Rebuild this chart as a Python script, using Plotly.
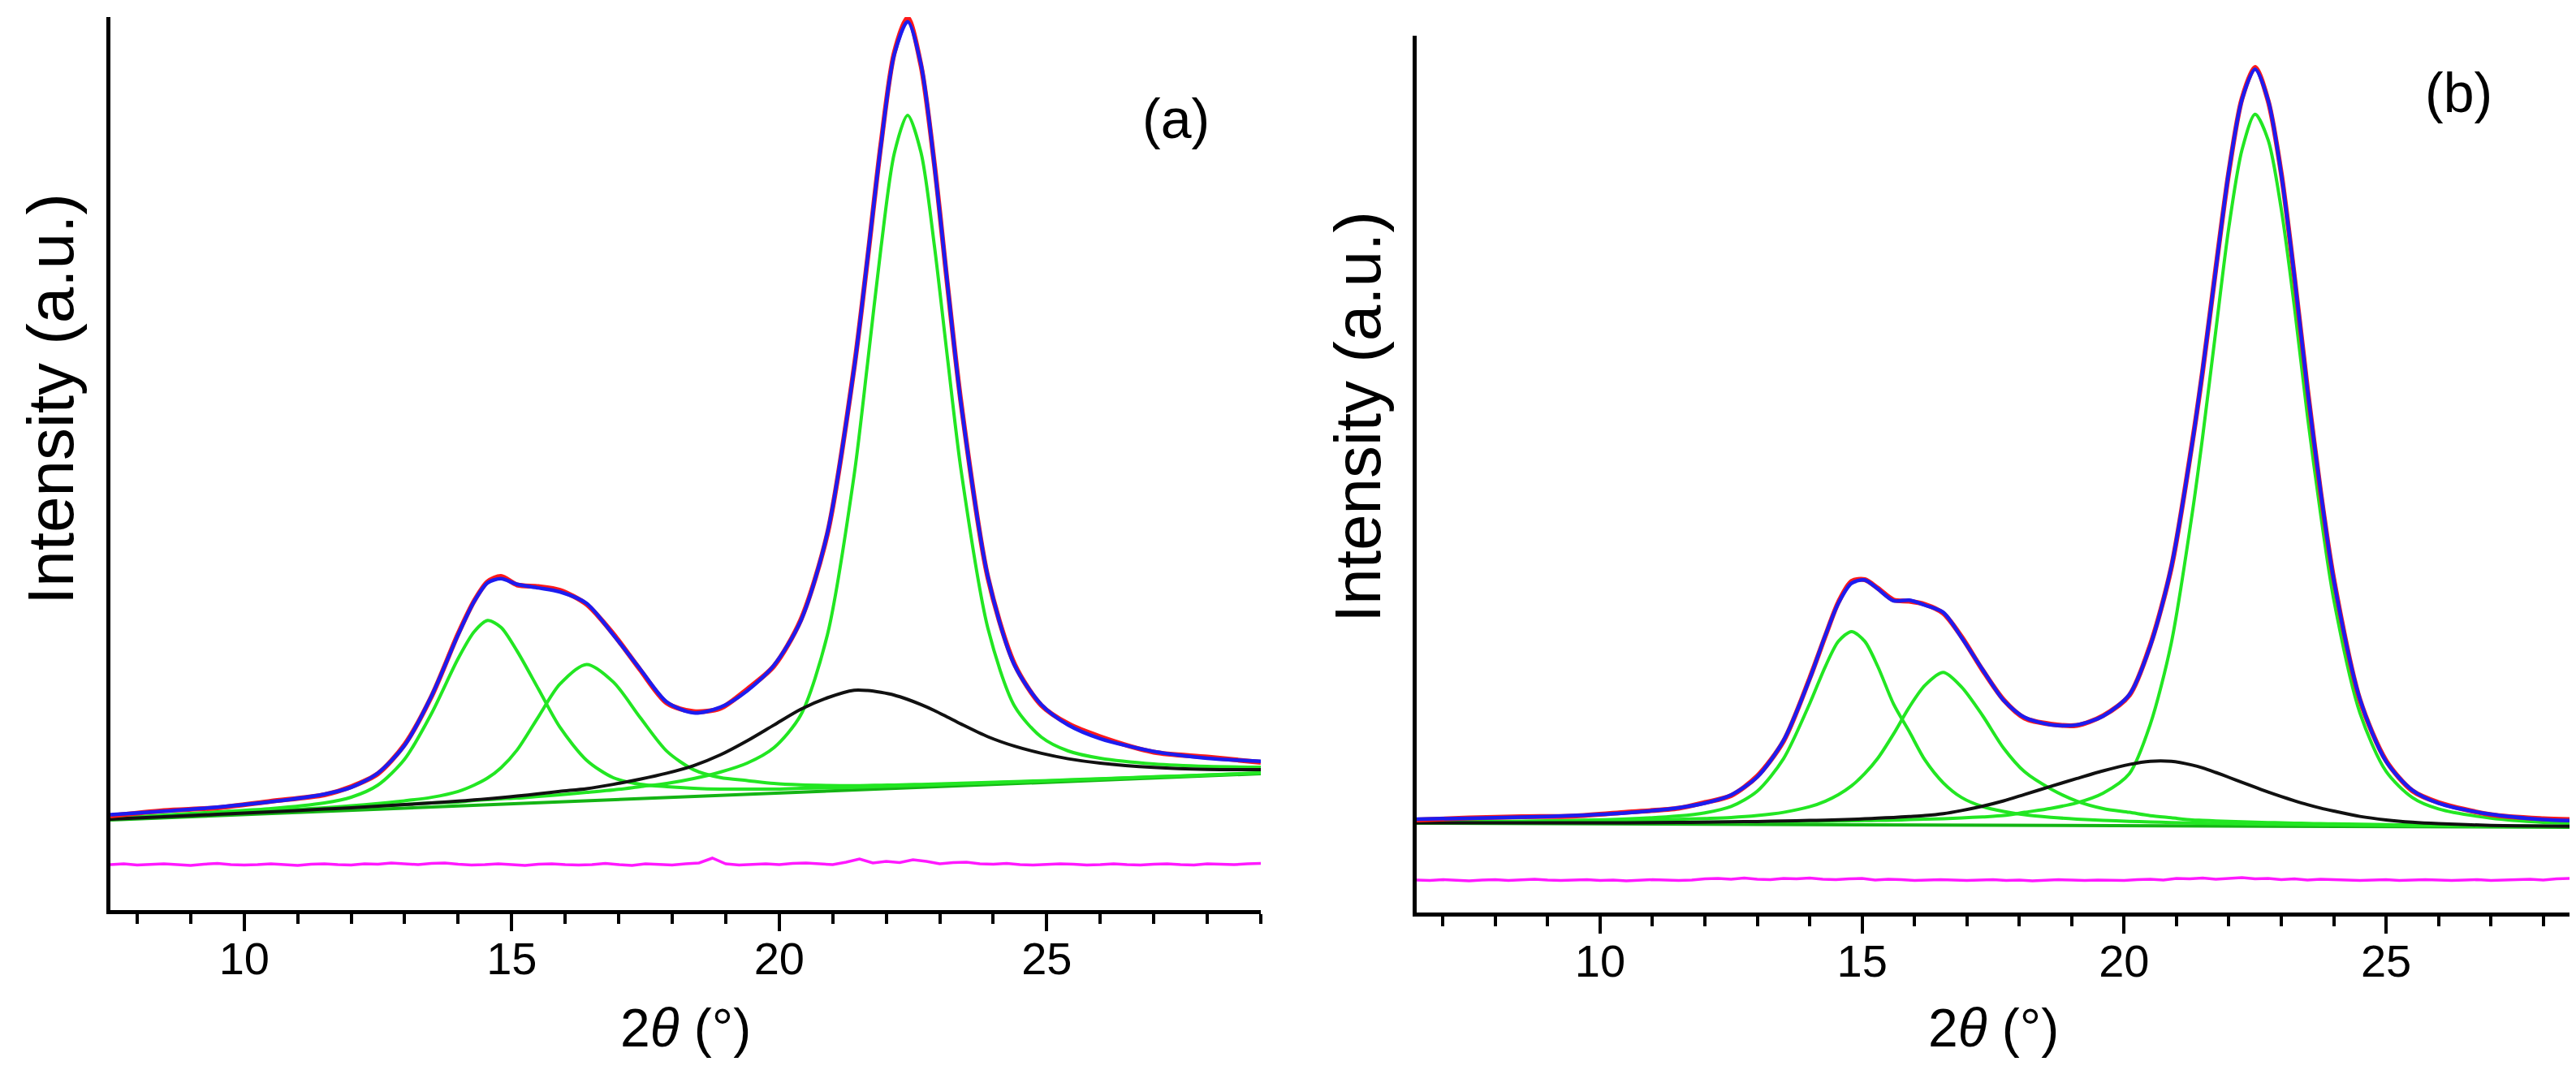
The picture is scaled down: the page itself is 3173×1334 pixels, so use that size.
import numpy as np
import plotly.graph_objects as go

# ---------------- panel (a) ----------------
XA = [7.5, 8.5, 9.5, 10.5, 11.5, 12, 12.5, 13, 13.5, 14, 14.3, 14.55, 14.8, 15.1, 15.5, 15.9,
      16.4, 16.9, 17.4, 17.9, 18.4, 18.9, 19.4, 19.9, 20.4, 20.9, 21.4, 21.65, 21.9, 22.15,
      22.4, 22.65, 22.9, 23.15, 23.4, 23.9, 24.4, 24.9, 25.4, 26, 27, 28, 29]

FIT_A = [117.4, 121.8, 126.8, 133.4, 142.8, 151.1, 168.8, 203.1, 263.6, 339.4, 380.3, 403.1,
         408.2, 401.3, 396.9, 392.0, 377.7, 338.9, 296.9, 256.2, 242.9, 249.8, 270.0, 301.4,
         355.9, 464.5, 667.8, 802.8, 941.9, 1054.0, 1094.3, 1041.4, 917.8, 767.2, 622.5,
         410.4, 301.2, 253.0, 228.0, 211.2, 195.4, 187.1, 183.3]

DATA_A = [116.0, 122.5, 126.0, 134.0, 142.0, 152.0, 168.0, 204.0, 263.0, 340.5, 381.0, 404.5,
          411.0, 400.5, 398.5, 394.0, 376.5, 340.0, 296.0, 255.0, 244.5, 248.5, 272.0, 300.5,
          357.0, 463.5, 668.5, 802.0, 943.0, 1056.0, 1099.0, 1040.0, 918.5, 766.5, 623.5,
          409.5, 302.5, 252.0, 229.5, 213.5, 194.5, 188.5, 182.0]

PEAK1_A = [113, 117, 121, 125, 132, 139, 154, 186, 242, 310, 343, 356.7, 348.3, 319.1, 272.2,
           225.3, 184.6, 163, 155, 152, 150, 149, 149, 149, 150, 150.5, 151.3, 151.8, 152.3,
           152.7, 153.3, 153.7, 154.3, 154.9, 155.4, 156.6, 157.7, 158.8, 160, 161.4, 163.9,
           166.3, 168.9]

PEAK2_A = [112.5, 115.6, 118.7, 122.2, 126.1, 128.4, 131.3, 134.6, 138.9, 146.2, 154, 162.7,
           175.3, 197.1, 238.2, 278.3, 302.6, 280.9, 237.2, 195.6, 172.9, 163.2, 159.5, 155.9,
           154.2, 153.5, 153.3, 153.5, 153.8, 154.1, 154.5, 154.8, 155.3, 155.8, 156.2, 157.3,
           158.3, 159.3, 160.4, 161.8, 164.2, 166.5, 169]

PEAK3_A = [113, 116, 119, 122, 125, 126, 128, 130, 132, 133, 135, 136, 137, 138, 140, 142,
           145, 148, 152, 156, 162, 170, 181, 200, 240, 339, 536, 673, 815, 932, 979, 933,
           818, 677, 541, 347, 251, 213, 196, 187, 180, 177, 176]

AMORPH_A = [112, 115, 118, 121, 124.4, 126.1, 128, 129.9, 131.9, 134.2, 135.7, 137.1, 138.5,
            140.4, 143.2, 146.3, 149.6, 154.9, 161.2, 168.6, 177.9, 191.2, 208.5, 227.9, 247.2,
            261.5, 270.8, 270.5, 268.2, 264.8, 259.5, 253.1, 245.8, 237.5, 229.1, 213.5, 201.8,
            193.1, 186.4, 181, 175.7, 173.3, 173]

BASE_A_X = [7.5, 29]
BASE_A_Y = [111, 168]

RESID_A = [56, 57, 55.5, 56.5, 57, 56, 55, 56.5, 57.5, 56,
           55.5, 56, 57, 56, 55, 56.5, 57, 56, 55.5, 57,
           56.5, 58, 57, 56, 57.5, 58, 56.5, 55.5, 56, 57,
           56, 55, 56.5, 57, 56, 55.5, 56, 57.5, 56, 55,
           57, 56, 55.5, 57, 58, 64, 57, 55.5, 56, 57,
           56, 57.5, 58, 57, 56, 59, 63, 58, 60, 58.5,
           62, 60, 57, 58.5, 59, 57, 56.5, 57.5, 56, 55.5,
           56, 57, 56.5, 55.5, 56, 57, 56, 55.5, 56.5, 57,
           56, 55.5, 57, 56.5, 56, 57, 57.5]

# ---------------- panel (b) ----------------
XB = [6.5, 7.5, 8.5, 9.5, 10.5, 11.5, 12, 12.5, 13, 13.5, 14, 14.3, 14.55, 14.8, 15.05, 15.3,
      15.6, 15.9, 16.2, 16.55, 16.9, 17.3, 17.7, 18.1, 18.6, 19.1, 19.6, 20.1, 20.5, 20.9,
      21.3, 21.5, 21.75, 22, 22.25, 22.5, 22.75, 23, 23.25, 23.5, 23.75, 24, 24.5, 25, 25.5,
      26, 27, 28, 28.5]

FIT_B = [115.1, 116.1, 117.4, 119.4, 122.8, 129, 134.7, 144.8, 167, 211.8, 287.8, 341.5, 381.3,
         405.6, 409.5, 398.6, 384, 384.7, 378.5, 369.6, 338.5, 299.3, 261.4, 240.4, 231.3, 231.1,
         242, 268.3, 328.5, 425.3, 577.7, 668.5, 792, 913.3, 1001.5, 1038.8, 1000.3, 909.3,
         783.8, 643.6, 519, 410.1, 262.9, 186.1, 150.8, 134.7, 121, 114.6, 113.3]

DATA_B = [114.0, 116.5, 118.0, 118.8, 123.5, 128.5, 135.5, 144.0, 168.0, 211.0, 288.5, 341.0,
          382.5, 408.0, 410.0, 399.5, 385.0, 383.5, 379.5, 368.5, 339.5, 298.5, 262.0, 239.5,
          232.0, 230.5, 242.5, 267.5, 329.5, 424.5, 578.5, 667.5, 793.0, 912.5, 1002.5,
          1041.0, 999.5, 910.0, 783.0, 644.5, 518.0, 411.0, 262.0, 187.0, 150.0, 135.5,
          120.5, 115.5, 114.5]

PEAK1_B = [111.7, 112, 112.5, 113.4, 115.2, 118.9, 122.8, 130.6, 149.5, 189.4, 257.3, 303.2,
           334.2, 346.1, 334.1, 303, 256.9, 222.9, 187.8, 159.7, 141.6, 130.5, 124.5, 120.4,
           117.3, 115.1, 113.5, 112.3, 111.5, 110.8, 110.2, 110, 109.7, 109.5, 109.2, 108.9,
           108.8, 108.6, 108.4, 108.2, 108.1, 107.9, 107.6, 107.3, 107.1, 106.9, 106.4, 106,
           105.9]

PEAK2_B = [111.8, 111.9, 112, 112.5, 113.3, 114.7, 115.8, 117.1, 119.5, 123.4, 130.3, 137.2,
           145.2, 156.1, 171.1, 190, 219.9, 252.9, 279.8, 295.7, 277.6, 242.5, 202.5, 173.4,
           152.3, 137.1, 128, 123.4, 119.3, 116.7, 114.1, 113.6, 112.8, 112.3, 111.7, 111.2,
           110.8, 110.5, 110.1, 109.7, 109.5, 109.2, 108.7, 108.3, 107.9, 107.6, 106.9, 106.4,
           106.2]

PEAK3_B = [111.1, 111.1, 111, 111, 111.1, 111.3, 111.4, 111.5, 111.7, 111.9, 112.2, 112.4,
           112.7, 112.9, 113.2, 113.4, 113.8, 114.4, 114.9, 115.6, 116.5, 117.8, 119.4, 123.4,
           128.3, 135.1, 147, 170.9, 231.8, 331.7, 491.6, 586.6, 716.5, 844.5, 939.4, 983.3,
           951.3, 866.3, 746.2, 611.1, 491.1, 386, 245.9, 173.8, 141.7, 127.6, 116.3, 111.1, 110]

AMORPH_B = [110.55, 110.55, 110.45, 110.5, 110.6, 111, 111.3, 111.7, 112.1, 112.7, 113.4, 113.8,
            114.3, 114.8, 115.4, 116.2, 117.1, 118.2, 119.4, 121.7, 125.6, 131, 137.5, 145.4,
            155.3, 165.1, 174.5, 182.4, 186.3, 186.2, 181.6, 178.1, 172.5, 166.5, 160.4, 154.3,
            148.3, 142.8, 137.7, 132.9, 128.6, 125, 118.4, 114.1, 111.2, 109.4, 107.3, 106.4,
            106.2]

BASE_B_X = [6.5, 28.5]
BASE_B_Y = [110, 105]

RESID_B = [40, 39.5, 40.5, 40, 39, 40, 40.5, 39.5, 40, 41,
           40, 39.5, 40, 40.5, 39.5, 40, 39, 40, 40.5, 40,
           39.5, 40, 41.5, 42, 41, 42.5, 41, 40.5, 42, 41.5,
           42.5, 41, 40.5, 41.5, 42, 40, 41, 40.5, 39.5, 40,
           40.5, 40, 39.5, 40, 40.5, 39.5, 40, 39, 40, 40.5,
           40, 39.5, 40, 40, 39.5, 40.5, 41, 40, 42, 41.5,
           42.5, 41, 42, 43, 41.5, 42, 40.5, 41.5, 40, 41,
           40.5, 40, 39.5, 40, 40.5, 39.5, 40, 40.5, 40, 39.5,
           40, 40.5, 39.5, 40, 40.5, 41, 40, 41.5, 42]

RESID_A_X = np.round(np.arange(len(RESID_A)) * 0.25 + 7.5, 2)
RESID_B_X = np.round(np.arange(len(RESID_B)) * 0.25 + 6.5, 2)

TICKS = [10, 15, 20, 25]
X_RANGE_A = [7.5, 29]
X_RANGE_B = [6.5, 28.5]

# ---------------- styling ----------------
W, H = 3173, 1334
FONT = "Liberation Sans, Arial, sans-serif"
BLUE = "#1c1cf0"
RED = "#ff1a1a"
GREEN = "#22e622"
BASEGREEN = "#14b414"
BLACK = "#111111"
MAGENTA = "#ff19ff"


def px_x(p):
    return p / W


def px_y(p):
    return 1 - p / H


fig = go.Figure()


def add_panel(xs, base_x, base_y, p1, p2, p3, amorph, data, fit, rx, ry, xa, ya):
    common = dict(mode="lines", hoverinfo="skip", showlegend=False, xaxis=xa, yaxis=ya)
    fig.add_trace(go.Scatter(x=base_x, y=base_y, line=dict(color=BASEGREEN, width=4), **common))
    for pk in (p1, p2, p3):
        fig.add_trace(go.Scatter(x=xs, y=pk, line=dict(color=GREEN, width=4,
                                                        shape="spline", smoothing=0.8), **common))
    fig.add_trace(go.Scatter(x=xs, y=amorph, line=dict(color=BLACK, width=4,
                                                        shape="spline", smoothing=0.8), **common))
    fig.add_trace(go.Scatter(x=xs, y=data, line=dict(color=RED, width=6,
                                                      shape="spline", smoothing=0.8), **common))
    fig.add_trace(go.Scatter(x=xs, y=fit, line=dict(color=BLUE, width=4.5,
                                                     shape="spline", smoothing=0.8), **common))
    fig.add_trace(go.Scatter(x=rx, y=ry, line=dict(color=MAGENTA, width=3.5), **common))


add_panel(XA, BASE_A_X, BASE_A_Y, PEAK1_A, PEAK2_A, PEAK3_A, AMORPH_A, DATA_A, FIT_A,
          RESID_A_X, RESID_A, "x", "y")
add_panel(XB, BASE_B_X, BASE_B_Y, PEAK1_B, PEAK2_B, PEAK3_B, AMORPH_B, DATA_B, FIT_B,
          RESID_B_X, RESID_B, "x2", "y2")

xaxis_common = dict(
    showline=True, linecolor="black", linewidth=5, mirror=False,
    showgrid=False, zeroline=False,
    ticks="outside", ticklen=21, tickwidth=4, tickcolor="black",
    tickmode="array", tickvals=TICKS, ticktext=[str(t) for t in TICKS],
    tickfont=dict(family=FONT, size=56, color="black"),
    ticklabelstandoff=-14,
    minor=dict(ticks="outside", ticklen=12, tickwidth=4, tickcolor="black", dtick=1, tick0=0),
)
yaxis_common = dict(
    showline=True, linecolor="black", linewidth=5, mirror=False,
    showgrid=False, zeroline=False, ticks="", showticklabels=False,
)

fig.update_layout(
    width=W, height=H,
    margin=dict(l=0, r=0, t=0, b=0),
    paper_bgcolor="white", plot_bgcolor="white",
    xaxis=dict(domain=[px_x(128), px_x(1545)], range=X_RANGE_A, anchor="y", **xaxis_common),
    yaxis=dict(domain=[px_y(1113), px_y(13)], range=[0, 1100], anchor="x", **yaxis_common),
    xaxis2=dict(domain=[px_x(1737), px_x(3157)], range=X_RANGE_B, anchor="y2", **xaxis_common),
    yaxis2=dict(domain=[px_y(1116), px_y(36)], range=[0, 1080], anchor="x2", **yaxis_common),
)

ann_font = dict(family=FONT, size=68, color="black")
title_font = dict(family=FONT, size=66, color="black")
ytitle_font = dict(family=FONT, size=80, color="black")
annotations = [
    dict(text="(a)", x=px_x(1440), y=px_y(138), font=ann_font),
    dict(text="(b)", x=px_x(3020), y=px_y(106), font=ann_font),
    dict(text="2<i>θ</i> (°)", x=px_x(836), y=px_y(1258), font=title_font),
    dict(text="2<i>θ</i> (°)", x=px_x(2447), y=px_y(1258), font=title_font),
    dict(text="Intensity (a.u.)", x=px_x(54), y=px_y(484), textangle=-90, font=ytitle_font),
    dict(text="Intensity (a.u.)", x=px_x(1664), y=px_y(506), textangle=-90, font=ytitle_font),
]
for a in annotations:
    fig.add_annotation(xref="paper", yref="paper", showarrow=False,
                       xanchor="center", yanchor="middle", **a)

fig.write_html("out.html")
